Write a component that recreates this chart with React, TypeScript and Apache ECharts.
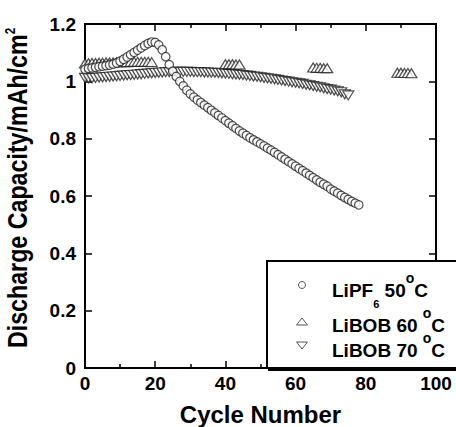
import React, { useEffect, useRef } from "react";
import * as echarts from "echarts";

const FONT = '"Liberation Sans", Arial, Helvetica, sans-serif';

// Axis ranges / ticks
const X_MIN = 0;
const X_MAX = 100;
const X_STEP = 20;
const Y_MIN = 0;
const Y_MAX = 1.2;
const Y_STEP = 0.2;

// Series names
const NAME_LIPF = "LiPF6 50°C";
const NAME_60 = "LiBOB 60 °C";
const NAME_70 = "LiBOB 70 °C";

// LiPF6 50°C: discharge capacity for cycles 0..78 (one per cycle)
const lipfValues = [
  1.042, 1.045, 1.047, 1.049, 1.051, 1.053, 1.055, 1.057, 1.06, 1.064,
  1.07, 1.077, 1.085, 1.093, 1.101, 1.109, 1.117, 1.125, 1.132, 1.137,
  1.136, 1.127, 1.11, 1.086, 1.058, 1.035, 1.017, 1.0, 0.984, 0.969,
  0.956, 0.945, 0.935, 0.926, 0.917, 0.908, 0.899, 0.89, 0.881, 0.872,
  0.863, 0.854, 0.845, 0.836, 0.827, 0.819, 0.811, 0.803, 0.796, 0.789,
  0.782, 0.775, 0.767, 0.76, 0.752, 0.744, 0.736, 0.728, 0.72, 0.712,
  0.704, 0.696, 0.688, 0.68, 0.672, 0.664, 0.656, 0.648, 0.641, 0.634,
  0.624, 0.617, 0.61, 0.602, 0.595, 0.588, 0.581, 0.575, 0.569,
];

// LiBOB 60 °C: measured cycles and values
const libob60Cycles = [
  0, 1, 2, 3, 4, 5, 6, 7, 8, 9, 10, 11, 12, 13, 14, 15, 16, 17, 18, 19,
  40, 41, 42, 43, 44,
  65, 66, 67, 68, 69,
  89, 90, 91, 92, 93,
];
const libob60Values = [
  1.062, 1.063, 1.064, 1.064, 1.065, 1.065, 1.066, 1.066, 1.066, 1.067,
  1.067, 1.067, 1.067, 1.068, 1.068, 1.068, 1.068, 1.068, 1.068, 1.067,
  1.06, 1.06, 1.06, 1.059, 1.059,
  1.048, 1.047, 1.047, 1.046, 1.046,
  1.03, 1.03, 1.029, 1.029, 1.028,
];

// LiBOB 70 °C: values for cycles 0..75 (one per cycle)
const libob70Values = [
  1.012, 1.011, 1.011, 1.012, 1.013, 1.014, 1.015, 1.016, 1.017, 1.018,
  1.019, 1.02, 1.021, 1.022, 1.023, 1.024, 1.025, 1.026, 1.027, 1.028,
  1.029, 1.03, 1.031, 1.032, 1.032, 1.033, 1.033, 1.033, 1.033, 1.033,
  1.033, 1.032, 1.032, 1.032, 1.031, 1.031, 1.03, 1.03, 1.029, 1.028,
  1.027, 1.026, 1.025, 1.024, 1.023, 1.022, 1.02, 1.019, 1.017, 1.016,
  1.014, 1.012, 1.011, 1.009, 1.007, 1.005, 1.003, 1.001, 0.999, 0.997,
  0.995, 0.993, 0.991, 0.988, 0.986, 0.984, 0.981, 0.979, 0.976, 0.973,
  0.971, 0.968, 0.965, 0.962, 0.955, 0.951,
];

const markerStyle = () => ({ color: "#ffffff", borderColor: "#222222", borderWidth: 1.2 });
const axisLine = () => ({ show: true, onZero: false, lineStyle: { color: "#000", width: 2 } });
const axisTick = () => ({ show: true, inside: true, length: 7, lineStyle: { color: "#000", width: 1.5 } });
const minorTick = () => ({ show: true, splitNumber: 2, length: 4, lineStyle: { color: "#000", width: 1.5 } });
const labelStyle = (margin: number) => ({
  fontSize: 19,
  fontWeight: "bold",
  fontFamily: FONT,
  color: "#000",
  margin,
});

const legendRich = () => ({
  n: { fontSize: 19, fontWeight: "bold", fontFamily: FONT, fill: "#000", lineHeight: 38 },
  sub: { fontSize: 11, fontWeight: "bold", fontFamily: FONT, fill: "#000", lineHeight: 11, verticalAlign: "bottom" },
  sup: { fontSize: 14, fontWeight: "bold", fontFamily: FONT, fill: "#000", lineHeight: 34, verticalAlign: "top" },
});

function buildOption(): any {
  return {
    animation: false,
    grid: {
      left: 85,
      top: 24,
      right: 20,
      bottom: 59,
      outerBoundsMode: "none",
      show: true,
      borderColor: "#000",
      borderWidth: 2,
      backgroundColor: "transparent",
    },
    xAxis: [
      {
        type: "value",
        position: "bottom",
        min: X_MIN,
        max: X_MAX,
        interval: X_STEP,
        splitLine: { show: false },
        axisLine: axisLine(),
        axisTick: axisTick(),
        minorTick: minorTick(),
        axisLabel: labelStyle(6),
        name: "Cycle Number",
        nameLocation: "middle",
        nameGap: 34,
        nameTextStyle: { fontSize: 24, fontWeight: "bold", fontFamily: FONT, color: "#000" },
      },
      {
        type: "value",
        position: "top",
        min: X_MIN,
        max: X_MAX,
        interval: X_STEP,
        splitLine: { show: false },
        axisLine: axisLine(),
        axisTick: axisTick(),
        minorTick: minorTick(),
        axisLabel: { show: false },
      },
    ],
    yAxis: [
      {
        type: "value",
        position: "left",
        min: Y_MIN,
        max: Y_MAX,
        interval: Y_STEP,
        splitLine: { show: false },
        axisLine: axisLine(),
        axisTick: axisTick(),
        axisLabel: labelStyle(9),
      },
      {
        type: "value",
        position: "right",
        min: Y_MIN,
        max: Y_MAX,
        interval: Y_STEP,
        splitLine: { show: false },
        axisLine: axisLine(),
        axisTick: axisTick(),
        axisLabel: { show: false },
      },
    ],
    series: [
      {
        name: NAME_70,
        type: "scatter",
        symbol: "triangle",
        symbolRotate: 180,
        symbolSize: [11, 9],
        itemStyle: markerStyle(),
        data: libob70Values.map((v, i) => [i, v]),
      },
      {
        name: NAME_60,
        type: "scatter",
        symbol: "triangle",
        symbolSize: [11, 9],
        itemStyle: markerStyle(),
        data: libob60Cycles.map((c, i) => [c, libob60Values[i]]),
      },
      {
        name: NAME_LIPF,
        type: "scatter",
        symbol: "circle",
        symbolSize: 8.5,
        itemStyle: markerStyle(),
        data: lipfValues.map((v, i) => [i, v]),
      },
    ],
    graphic: [
      {
        type: "text",
        x: 17,
        y: 188,
        rotation: Math.PI / 2,
        scaleX: 0.83,
        z: 20,
        style: {
          text: "{n|Discharge Capacity/mAh/cm}{sup|2}",
          align: "center",
          verticalAlign: "middle",
          rich: {
            n: { fontSize: 28, fontWeight: "bold", fontFamily: FONT, fill: "#000", lineHeight: 28 },
            sup: { fontSize: 14, fontWeight: "bold", fontFamily: FONT, fill: "#000", lineHeight: 14, verticalAlign: "top" },
          },
        },
      },
      { type: "rect", z: 10, shape: { x: 268, y: 263, width: 200, height: 108 }, style: { fill: "#000" } },
      { type: "rect", z: 11, shape: { x: 267, y: 261, width: 200, height: 107 }, style: { fill: "#fff", stroke: "#000", lineWidth: 2 } },
      { type: "circle", z: 12, shape: { cx: 302, cy: 285, r: 3.5 }, style: { fill: "#fff", stroke: "#555", lineWidth: 1 } },
      { type: "polygon", z: 12, shape: { points: [[296.5, 325], [307.5, 325], [302, 318]] }, style: { fill: "#fff", stroke: "#555", lineWidth: 1 } },
      { type: "polygon", z: 12, shape: { points: [[296.5, 342], [307.5, 342], [302, 349]] }, style: { fill: "#fff", stroke: "#555", lineWidth: 1 } },
      {
        type: "text",
        z: 12,
        x: 332,
        y: 290,
        style: { text: "{n|LiPF}{sub|6}{n| 50}{sup|o}{n|C}", align: "left", verticalAlign: "middle", rich: legendRich() },
      },
      {
        type: "text",
        z: 12,
        x: 332,
        y: 325,
        style: { text: "{n|LiBOB 60 }{sup|o}{n|C}", align: "left", verticalAlign: "middle", rich: legendRich() },
      },
      {
        type: "text",
        z: 12,
        x: 332,
        y: 350,
        style: { text: "{n|LiBOB 70 }{sup|o}{n|C}", align: "left", verticalAlign: "middle", rich: legendRich() },
      },
    ],
  };
}

export default function App() {
  const ref = useRef<HTMLDivElement>(null);

  useEffect(() => {
    document.body.style.margin = "0";
    document.body.style.background = "#fff";
    if (!ref.current) return;
    const chart = echarts.init(ref.current, undefined, { renderer: "svg" });
    chart.setOption(buildOption());
    return () => {
      chart.dispose();
    };
  }, []);

  return <div ref={ref} style={{ width: 456, height: 427 }} />;
}
